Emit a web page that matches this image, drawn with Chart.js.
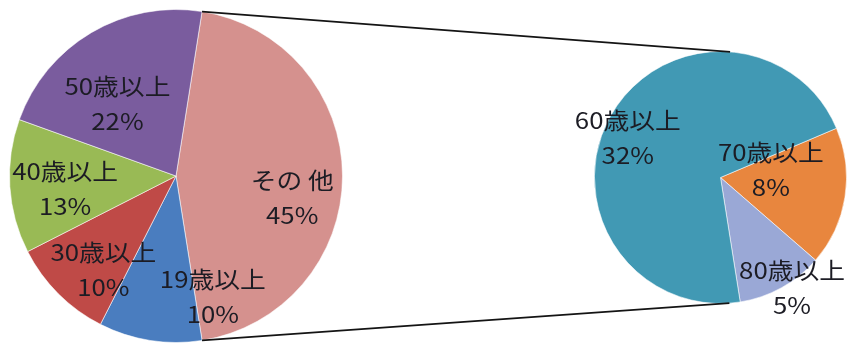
<!DOCTYPE html>
<html lang="ja">
<head>
<meta charset="utf-8">
<title>年齢構成</title>
<script src="https://cdn.jsdelivr.net/npm/chart.js@4.4.0/dist/chart.umd.min.js"></script>
<style>
  html, body { margin: 0; padding: 0; background: #fff; }
  #wrap { position: relative; width: 850px; height: 344px; overflow: hidden; }
  #wrap canvas { position: absolute; left: 0; top: 0; }
</style>
</head>
<body>
<div id="wrap">
  <canvas id="mainPie" width="850" height="344"></canvas>
  <canvas id="subPie" width="850" height="344"></canvas>
</div>
<script>
// main pie: the first slice is split out into the small pie on the right
const mainLabels = ['その 他', '19歳以上', '30歳以上', '40歳以上', '50歳以上'];
const mainValues = [45, 10, 10, 13, 22];
const mainColors = ['#D5918E', '#4A7DBF', '#BF4A47', '#99BA55', '#7A5C9E'];

// breakdown of the split slice
const subLabels = ['70歳以上', '80歳以上', '60歳以上'];
const subValues = [8, 5, 32];
const subColors = ['#E8863E', '#9AA8D6', '#4199B4'];

// label placement per slice: [fraction of radius, angle shift in degrees]
const mainLabelPlace = [[0.71, 10.6], [0.76, -25.9], [0.71, -7.1], [0.67, -3], [0.56, -8.3]];
const subLabelPlace = [[0.405, -18.2], [1.04, -4.1], [0.80, -5.9]];

const FONT = '23px "Noto Sans CJK JP", "Noto Sans", sans-serif';
const LINE_GAP = 35;
const X_STRETCH = 1.12;

function sliceLabels(place) {
  return {
    id: 'sliceLabels',
    afterDatasetsDraw(chart) {
      const ctx = chart.ctx;
      const meta = chart.getDatasetMeta(0);
      const ds = chart.data.datasets[0];
      ctx.save();
      ctx.font = FONT;
      ctx.fillStyle = '#1c1c24';
      ctx.textAlign = 'center';
      ctx.textBaseline = 'middle';
      meta.data.forEach((arc, i) => {
        const p = arc.getProps(['x', 'y', 'startAngle', 'endAngle', 'outerRadius'], true);
        const a = (p.startAngle + p.endAngle) / 2 + place[i][1] * Math.PI / 180;
        const r = p.outerRadius * place[i][0];
        const x = p.x + r * Math.cos(a);
        const y = p.y + r * Math.sin(a);
        const lines = [chart.data.labels[i], ds.data[i] + '%'];
        lines.forEach((t, k) => {
          ctx.save();
          ctx.translate(x, y + (k - 0.5) * LINE_GAP);
          ctx.scale(X_STRETCH, 1);
          ctx.fillText(t, 0, 0);
          ctx.restore();
        });
      });
      ctx.restore();
    }
  };
}

function pieOptions(rotation, padding) {
  return {
    responsive: false,
    animation: false,
    events: [],
    rotation: rotation,
    layout: { padding: padding },
    plugins: {
      legend: { display: false },
      tooltip: { enabled: false }
    }
  };
}

const mainTotal = mainValues.reduce((a, b) => a + b, 0);
// turn the split slice so it faces the small pie
const mainRotation = 90 - (mainValues[0] / mainTotal) * 180;

const mainChart = new Chart(document.getElementById('mainPie'), {
  type: 'pie',
  data: {
    labels: mainLabels,
    datasets: [{
      data: mainValues,
      backgroundColor: mainColors,
      borderColor: 'rgba(255,255,255,0.55)',
      borderWidth: 1
    }]
  },
  options: pieOptions(mainRotation, { left: 9, right: 507, top: 9, bottom: 1 }),
  plugins: [sliceLabels(mainLabelPlace)]
});

// lines from the split slice edges, tangent to the small pie
const connectors = {
  id: 'connectors',
  afterDraw(chart) {
    const src = mainChart.getDatasetMeta(0).data[0].getProps(['x', 'y', 'startAngle', 'endAngle', 'outerRadius'], true);
    const dst = chart.getDatasetMeta(0).data[0].getProps(['x', 'y', 'outerRadius'], true);
    const ends = [
      { ang: src.startAngle, side: 1 },
      { ang: src.endAngle, side: -1 }
    ];
    const ctx = chart.ctx;
    ctx.save();
    ctx.strokeStyle = '#141414';
    ctx.lineWidth = 1.7;
    ends.forEach(e => {
      const px = src.x + src.outerRadius * Math.cos(e.ang);
      const py = src.y + src.outerRadius * Math.sin(e.ang);
      const dx = px - dst.x, dy = py - dst.y;
      const d = Math.hypot(dx, dy);
      const t = Math.atan2(dy, dx) + e.side * Math.acos(dst.outerRadius / d);
      ctx.beginPath();
      ctx.moveTo(px, py);
      ctx.lineTo(dst.x + dst.outerRadius * Math.cos(t), dst.y + dst.outerRadius * Math.sin(t));
      ctx.stroke();
    });
    ctx.restore();
  }
};

new Chart(document.getElementById('subPie'), {
  type: 'pie',
  data: {
    labels: subLabels,
    datasets: [{
      data: subValues,
      backgroundColor: subColors,
      borderColor: 'rgba(255,255,255,0.55)',
      borderWidth: 1
    }]
  },
  options: pieOptions(67, { left: 594, right: 3, top: 51, bottom: 40 }),
  plugins: [sliceLabels(subLabelPlace), connectors]
});
</script>
</body>
</html>
